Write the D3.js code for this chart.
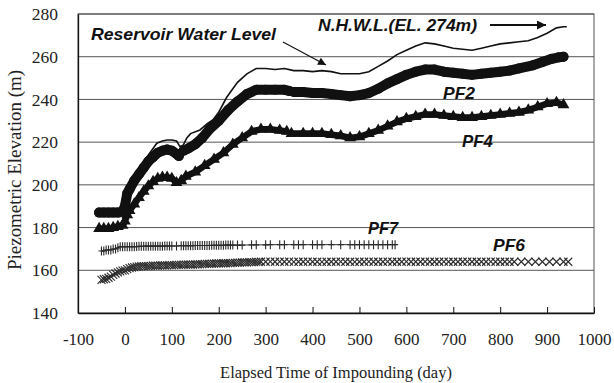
<!DOCTYPE html>
<meta charset="utf-8">
<script src="https://d3js.org/d3.v7.min.js"></script>
<style>
  body { margin: 0; background: #fff; }
  .note { font-family: Arial, "Liberation Sans", sans-serif; font-weight: bold; font-style: italic; fill: #111; }
</style>
<div id="chart"></div>
<script>
// readings [day, elevation m]; null = gap in the record
var reservoir = [[0,190],[5,195],[11,199],[20,203],[30,207],[40,211],[50,214],[60,217],[68,219.5],[80,220.5],[90,221],[100,221],[110,220.5],[117,218],[124,218.5],[132,222],[140,224],[160,225.7],[175,228.5],[188,230.5],[200,234],[217,241],[240,248],[260,252],[280,254.5],[300,254.5],[320,254],[340,254.5],[360,253.5],[380,253.5],[400,253],[420,253.5],[440,253],[460,252],[480,252],[500,252],[520,253],[540,255.5],[560,258],[580,261],[600,263],[620,265],[640,266.5],[660,266],[680,265],[700,264],[720,263.5],[740,263],[760,264],[780,265],[800,266],[820,266.5],[840,267],[860,267.5],[880,269],[900,271],[920,273.5],[935,274],[942,274]];

var pf2 = [[-55,187],[-45,187],[-35,187],[-25,187],[-15,187],[-5,187.5],[0,190],[5,196],[10,198],[20,202],[30,205],[40,208],[50,211],[60,213],[70,215],[80,216],[90,216.5],[100,216],[110,214.5],[115,213.5],null,[125,216],[135,217],[150,219],[165,222],[180,226],[200,230],[220,235],[240,239],[260,242.5],[280,244.5],[300,244.5],[320,244.5],[340,244.5],[350,244],null,[360,243.5],[380,243.5],[400,243],[420,243],[440,242.5],[460,242],[480,241.5],[500,242],[520,243],[540,245],[560,247.5],[580,249.5],[600,251.5],[620,253],[640,254],[660,254],[680,253],[700,252.5],[720,252],[740,251.5],[760,252],[780,252.5],[800,253],[820,253.5],[840,254.5],[870,256],[890,257.5],[910,259],[925,259.7],[935,260]];

var pf4 = [[-55,179.5],[-45,179.5],[-35,179.5],[-25,180],[-15,180.5],[-5,181],[0,183],[5,186],[10,188],[20,191],[30,194],[40,197],[50,199.5],[60,201.5],[70,203],[80,203.5],[90,203.5],[100,203],[110,201],null,[120,202],[130,204],[150,206],[170,209],[190,212],[210,215],[230,219],[250,222],[270,225],[290,226],[310,226],[330,225.5],[345,225],null,[355,224],[380,224],[400,224],[420,224],[440,223.5],[460,223],[480,222],[500,222.5],[520,224],[540,225.5],[560,227.5],[580,229.5],[600,231],[620,232],[640,233],[660,233],[680,232.5],[700,232],[720,231.5],[740,231.5],[760,232],[780,232.5],[800,233],[820,233.5],[840,234],[860,235],[880,236.5],[900,238],[920,238.5],[935,237.5]];

var pf7 = [[-50,169],[-45,169],[-40,169.5],[-35,169.5],[-30,169.5],[-25,170],[-20,170],[-15,170.5],[-10,171],[-5,171],[0,171],[5,171],[10,171],[15,171],[20,171],[25,171.1],[30,171.2],[35,171.2],[40,171.2],[45,171.3],[50,171.3],[55,171.3],[60,171.3],[65,171.3],[70,171.3],[75,171.3],[80,171.3],[85,171.4],[90,171.4],[95,171.4],[100,171.4],[110,171.4],[120,171.5],[125,171.5],[130,171.5],[135,171.5],[140,171.5],[145,171.5],[150,171.6],[155,171.6],[160,171.6],[165,171.6],[170,171.6],[175,171.6],[180,171.6],[185,171.7],[190,171.7],[195,171.7],[200,171.7],[205,171.7],[210,171.7],[215,171.8],[220,171.8],[225,171.8],[230,171.8],[240,171.8],[250,171.8],[270,171.9],[280,171.9],[300,171.9],[310,172],[330,172],[340,172],[360,172],[370,172],[380,172],[400,172],[410,172],[420,172],[440,172],[460,172],[480,172],[490,172],[500,172],[510,172],[520,172],[530,172],[540,172],[550,172],[560,172],[570,172],[576,172]];

var pf6 = [[-50,155.5],[-45,155.8],[-40,156],[-35,156.5],[-30,157],[-25,157.8],[-20,158.5],[-15,159],[-10,159.5],[-5,159.8],[0,160],[5,160.5],[10,161],[15,161.3],[20,161.5],[25,161.7],[30,161.8],[35,161.9],[40,162],[45,162],[50,162],[55,162.1],[60,162.2],[65,162.2],[70,162.2],[75,162.3],[80,162.3],[85,162.3],[90,162.3],[95,162.4],[100,162.4],[105,162.4],[110,162.5],[115,162.5],[120,162.5],[125,162.6],[130,162.6],[135,162.6],[140,162.7],[145,162.7],[150,162.8],[155,162.8],[160,162.9],[165,162.9],[170,163],[175,163],[180,163],[185,163.1],[190,163.1],[195,163.2],[200,163.2],[205,163.2],[210,163.3],[215,163.3],[220,163.4],[225,163.4],[230,163.5],[235,163.5],[240,163.6],[245,163.6],[250,163.7],[255,163.7],[260,163.7],[265,163.8],[270,163.8],[275,163.8],[280,163.9],[285,163.9],[290,164],[300,164],[310,164.1],[320,164],[330,164.1],[340,164],[350,164.1],[360,163.9],[370,164],[380,164],[390,164.1],[400,164],[410,164],[420,163.9],[430,164],[440,164],[450,164],[460,164.1],[470,164],[480,164],[490,163.9],[500,164],[510,164],[520,164.1],[530,164],[540,164],[550,164],[560,164.1],[570,164],[580,164],[590,164],[600,164.1],[610,164],[620,164],[630,164],[640,164.1],[650,164],[660,164],[670,164],[680,164.1],[690,164],[700,164],[710,164],[720,164],[730,164.1],[740,164],[750,164],[760,164],[770,164],[780,164.1],[790,164],[800,164],[810,164],[820,164],[830,164],[845,164],[860,164],[875,164],[890,164],[905,164],[920,164],[935,164],[945,164]];

var xTicks = [-100, 0, 100, 200, 300, 400, 500, 600, 700, 800, 900, 1000];
var yTicks = [140, 160, 180, 200, 220, 240, 260, 280];

var W = 614, H = 383;
var margin = {top: 14, right: 20, bottom: 70, left: 78};
var width = W - margin.left - margin.right,
    height = H - margin.top - margin.bottom;
var serif = "'Liberation Serif', 'Times New Roman', serif";

var svg = d3.select("#chart")
  .append("svg")
    .attr("width", W)
    .attr("height", H)
  .append("g")
    .attr("transform", "translate(" + margin.left + "," + margin.top + ")");

var x = d3.scaleLinear().domain([-100, 1000]).range([0, width]);
var y = d3.scaleLinear().domain([140, 280]).range([height, 0]);

// gridlines
svg.append("g")
  .selectAll("line")
  .data(yTicks.slice(1))
  .enter()
  .append("line")
    .attr("x1", 0).attr("x2", width)
    .attr("y1", function(d) { return y(d); })
    .attr("y2", function(d) { return y(d); })
    .attr("stroke", "#555")
    .attr("stroke-width", 1);

// frame
svg.append("rect")
  .attr("width", width).attr("height", height)
  .attr("fill", "none").attr("stroke", "#555").attr("stroke-width", 1);

// X axis (ticks pointing inward)
var xAxis = svg.append("g")
  .attr("transform", "translate(0," + height + ")")
  .call(d3.axisBottom(x).tickValues(xTicks).tickFormat(function(d) { return String(d); })
    .tickSizeInner(-6).tickSizeOuter(0).tickPadding(20));
xAxis.select(".domain").attr("stroke", "#111").attr("stroke-width", 1.3);
xAxis.selectAll("line").attr("stroke", "#111");
xAxis.selectAll("text").style("font-family", serif).style("font-size", "17px").style("fill", "#222");

var yAxis = svg.append("g")
  .call(d3.axisLeft(y).tickValues(yTicks).tickFormat(function(d) { return String(d); })
    .tickSize(0).tickPadding(20));
yAxis.select(".domain").attr("stroke", "#111").attr("stroke-width", 1.3);
yAxis.selectAll("text").style("font-family", serif).style("font-size", "17.5px").style("fill", "#222");

var line = d3.line()
  .defined(function(d) { return d !== null; })
  .x(function(d) { return x(d[0]); })
  .y(function(d) { return y(d[1]); });

function pts(arr) { return arr.filter(function(d) { return d !== null; }); }

// PF6 - x markers
svg.append("g").selectAll("path").data(pf6).enter().append("path")
  .attr("d", "M-4,-4L4,4M-4,4L4,-4")
  .attr("transform", function(d) { return "translate(" + x(d[0]) + "," + y(d[1]) + ")"; })
  .attr("stroke", "#2a2a2a").attr("stroke-width", 1.1).attr("fill", "none");

// PF7 - plus markers
svg.append("path").datum(pf7).attr("d", line)
  .attr("fill", "none").attr("stroke", "#333").attr("stroke-width", 1);
svg.append("g").selectAll("path").data(pf7).enter().append("path")
  .attr("d", "M0,-4.5V4.5M-3,0H3")
  .attr("transform", function(d) { return "translate(" + x(d[0]) + "," + y(d[1]) + ")"; })
  .attr("stroke", "#2a2a2a").attr("stroke-width", 1.1).attr("fill", "none");

// PF4 - filled triangles
svg.append("path").datum(pf4).attr("d", line)
  .attr("fill", "none").attr("stroke", "#111").attr("stroke-width", 6.5)
  .attr("stroke-linejoin", "round");
svg.append("g").selectAll("path").data(pts(pf4)).enter().append("path")
  .attr("d", d3.symbol().type(d3.symbolTriangle).size(60))
  .attr("transform", function(d) { return "translate(" + x(d[0]) + "," + y(d[1]) + ")"; })
  .attr("fill", "#111");

// PF2 - filled circles
svg.append("path").datum(pf2).attr("d", line)
  .attr("fill", "none").attr("stroke", "#111").attr("stroke-width", 10)
  .attr("stroke-linejoin", "round").attr("stroke-linecap", "round");
svg.append("g").selectAll("circle").data(pts(pf2)).enter().append("circle")
  .attr("cx", function(d) { return x(d[0]); })
  .attr("cy", function(d) { return y(d[1]); })
  .attr("r", 5)
  .attr("fill", "#111");

// reservoir water level - thin line
svg.append("path").datum(reservoir).attr("d", line)
  .attr("fill", "none").attr("stroke", "#111").attr("stroke-width", 1.6);

// arrowheads
var defs = d3.select("svg").append("defs");
defs.append("marker").attr("id", "arr")
  .attr("viewBox", "0 0 10 10").attr("refX", 10).attr("refY", 5)
  .attr("markerWidth", 10).attr("markerHeight", 8).attr("markerUnits", "userSpaceOnUse")
  .attr("orient", "auto")
  .append("path").attr("d", "M0,0L10,5L0,10Z").attr("fill", "#111");
defs.append("marker").attr("id", "arr2")
  .attr("viewBox", "0 0 10 10").attr("refX", 10).attr("refY", 5)
  .attr("markerWidth", 13).attr("markerHeight", 9).attr("markerUnits", "userSpaceOnUse")
  .attr("orient", "auto")
  .append("path").attr("d", "M0,0L10,5L0,10Z").attr("fill", "#111");

var root = d3.select("svg");
root.append("line")
  .attr("x1", 283).attr("y1", 42).attr("x2", 326).attr("y2", 65)
  .attr("stroke", "#111").attr("stroke-width", 1.2).attr("marker-end", "url(#arr)");
root.append("line")
  .attr("x1", 490).attr("y1", 25).attr("x2", 546).attr("y2", 25)
  .attr("stroke", "#111").attr("stroke-width", 2).attr("marker-end", "url(#arr2)");

// annotations
var notes = [
  {t: "Reservoir Water Level", x: 91, y: 40, w: 185},
  {t: "N.H.W.L.(EL. 274m)", x: 318, y: 31, w: 159},
  {t: "PF2", x: 443, y: 99, w: 32},
  {t: "PF4", x: 462, y: 147, w: 31},
  {t: "PF7", x: 368, y: 234, w: 30},
  {t: "PF6", x: 493, y: 251, w: 32}
];
root.selectAll("text.note").data(notes).enter().append("text")
  .attr("class", "note")
  .attr("x", function(d) { return d.x; })
  .attr("y", function(d) { return d.y; })
  .attr("textLength", function(d) { return d.w; })
  .attr("lengthAdjust", "spacingAndGlyphs")
  .style("font-size", "16.5px")
  .text(function(d) { return d.t; });

// axis titles
root.append("text")
  .attr("x", 336).attr("y", 378)
  .attr("text-anchor", "middle")
  .style("font-family", serif)
  .style("font-size", "16.5px").style("fill", "#222")
  .text("Elapsed Time of Impounding (day)");
root.append("text")
  .attr("transform", "translate(21,170) rotate(-90)")
  .attr("text-anchor", "middle")
  .attr("textLength", 200)
  .attr("lengthAdjust", "spacingAndGlyphs")
  .style("font-family", serif)
  .style("font-size", "18px").style("fill", "#222")
  .text("Piezometric Elevation (m)");
</script>
